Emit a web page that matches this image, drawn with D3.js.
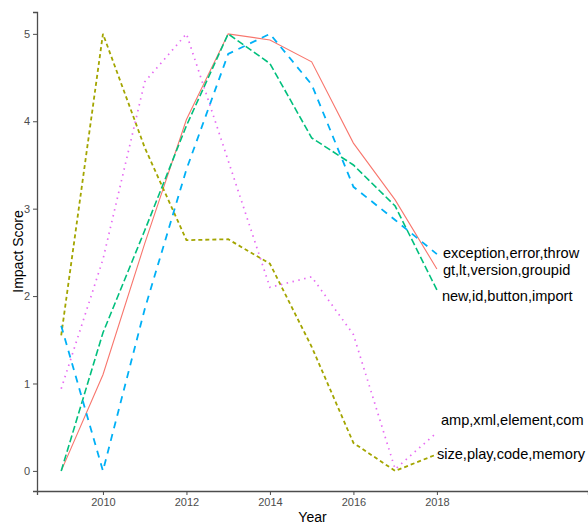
<!DOCTYPE html>
<html>
<head>
<meta charset="utf-8">
<script src="https://cdn.jsdelivr.net/npm/d3@7"></script>
<style>
  body { margin: 0; background: #fff; }
  text { font-family: "Liberation Sans", Arial, sans-serif; }
</style>
</head>
<body>
<svg id="chart"></svg>
<script>
// years on the x axis
const years = [2009, 2010, 2011, 2012, 2013, 2014, 2015, 2016, 2017, 2018];

// topic names (legend labels at the line ends)
const topics = ["gt,lt,version,groupid", "size,play,code,memory", "new,id,button,import",
                "exception,error,throw", "amp,xml,element,com"];

// impact score per topic, one value per year
const gtScores        = [0, 1.1, 2.6, 4.02, 5, 4.93, 4.68, 3.75, 3.1, 2.31];
const sizeScores      = [1.55, 5, 3.7, 2.64, 2.65, 2.37, 1.42, 0.32, 0.0, 0.19];
const newScores       = [0, 1.58, 2.75, 3.95, 5, 4.66, 3.81, 3.5, 3.03, 2.07];
const exceptionScores = [1.66, 0, 1.85, 3.45, 4.77, 5, 4.42, 3.25, 2.87, 2.48];
const ampScores       = [0.94, 2.42, 4.45, 5, 3.55, 2.1, 2.22, 1.56, 0.02, 0.44];

const xTicks = [2010, 2012, 2014, 2016, 2018];
const yTicks = [0, 1, 2, 3, 4, 5];

// styling per series (ggplot hue palette + linetypes)
const colors = ["#F8766D", "#A3A500", "#00BF7D", "#00B0F6", "#E76BF3"];
const dashes = [null, "4,3", "7,3", "7,6", "1.5,4.5"];
const widths = [1.1, 1.8, 1.6, 1.8, 1.7];
// small repel adjustments for the end labels, in px
const labelDx = [6, 0, 5, 6, 4];
const labelDy = [2, 1, 7, 0, -11];

const series = topics.map((name, i) => ({
  name: name,
  values: [gtScores, sizeScores, newScores, exceptionScores, ampScores][i]
    .map((v, j) => ({year: years[j], score: v}))
}));

const width = 588, height = 524;
const margin = {top: 12, right: 0, bottom: 33, left: 37};

const svg = d3.select("#chart")
    .attr("width", width)
    .attr("height", height);

const xScale = d3.scaleLinear()
    .domain([2008.42, 2021.62])
    .range([margin.left, width - margin.right]);

const yScale = d3.scaleLinear()
    .domain([-0.23, 5.25])
    .range([height - margin.bottom, margin.top]);

// axes
const xAxis = d3.axisBottom(xScale).tickValues(xTicks).tickFormat(d3.format("d")).tickSize(4).tickPadding(3);
const yAxis = d3.axisLeft(yScale).tickValues(yTicks).tickFormat(d3.format("d")).tickSize(4).tickPadding(3);

const xAxisG = svg.append("g")
    .attr("transform", `translate(0,${height - margin.bottom})`)
    .call(xAxis);
const yAxisG = svg.append("g")
    .attr("transform", `translate(${margin.left},0)`)
    .call(yAxis);

[xAxisG, yAxisG].forEach(g => {
  g.select(".domain").attr("stroke", "#4d4d4d").attr("stroke-width", 1.3);
  g.selectAll(".tick line").attr("stroke", "#4d4d4d").attr("stroke-width", 1);
  g.selectAll(".tick text")
      .attr("fill", "#4d4d4d")
      .style("font-size", "11px")
      .style("font-family", "'Liberation Sans', Arial, sans-serif");
});

// lines
const line = d3.line()
    .x(d => xScale(d.year))
    .y(d => yScale(d.score));

svg.append("g")
  .selectAll("path")
  .data(series)
  .join("path")
    .attr("d", d => line(d.values))
    .attr("fill", "none")
    .attr("stroke", (d, i) => colors[i])
    .attr("stroke-width", (d, i) => widths[i])
    .attr("stroke-dasharray", (d, i) => dashes[i]);

// end labels
svg.append("g")
  .selectAll("text")
  .data(series)
  .join("text")
    .attr("x", d => xScale(d.values[d.values.length - 1].year))
    .attr("y", d => yScale(d.values[d.values.length - 1].score))
    .attr("dx", (d, i) => labelDx[i])
    .attr("dy", (d, i) => labelDy[i])
    .attr("dominant-baseline", "middle")
    .style("font-size", "14.6px")
    .attr("fill", "#000")
    .text(d => d.name);

// axis titles
svg.append("text")
    .attr("x", (margin.left + width - margin.right) / 2)
    .attr("y", height - 2)
    .attr("text-anchor", "middle")
    .style("font-size", "14px")
    .text("Year");

svg.append("text")
    .attr("transform", `translate(23,${(margin.top + height - margin.bottom) / 2}) rotate(-90)`)
    .attr("text-anchor", "middle")
    .style("font-size", "14px")
    .text("Impact Score");
</script>
</body>
</html>
